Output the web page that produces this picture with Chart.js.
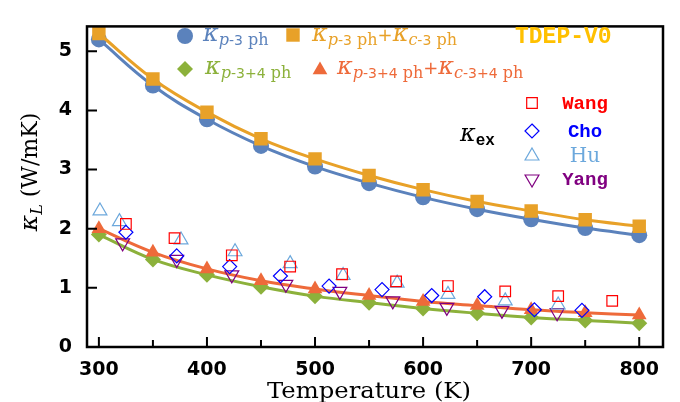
<!DOCTYPE html>
<html>
<head>
<meta charset="utf-8">
<script src="https://cdn.jsdelivr.net/npm/chart.js@4.4.0/dist/chart.umd.min.js"></script>
<style>
  html, body { margin: 0; padding: 0; background: #fff; }
  #wrap { width: 680px; height: 402px; }
</style>
</head>
<body>
<div id="wrap"><canvas id="chart" width="680" height="402"></canvas></div>
<script>
// ── Data ─────────────────────────────────────────────────────
const TEMPS     = [300, 350, 400, 450, 500, 550, 600, 650, 700, 750, 800];
const K_P3      = [5.20, 4.42, 3.85, 3.40, 3.05, 2.77, 2.53, 2.33, 2.16, 2.01, 1.89];
const K_P3_C3   = [5.30, 4.53, 3.97, 3.52, 3.18, 2.90, 2.66, 2.46, 2.30, 2.15, 2.04];
const K_P34     = [1.90, 1.48, 1.22, 1.02, 0.86, 0.75, 0.65, 0.57, 0.50, 0.45, 0.40];
const K_P34_C34 = [2.00, 1.60, 1.32, 1.12, 0.98, 0.87, 0.77, 0.70, 0.63, 0.58, 0.54];

// experiments (kappa_ex)
const WANG_T = [325, 370, 423, 477, 525, 575, 623, 676, 725, 775];
const WANG_K = [2.08, 1.84, 1.55, 1.36, 1.23, 1.11, 1.03, 0.94, 0.86, 0.78];
const CHO_T  = [325, 372, 421, 468, 513, 562, 608, 657, 703, 747];
const CHO_K  = [1.94, 1.54, 1.36, 1.20, 1.03, 0.97, 0.87, 0.85, 0.63, 0.62];
const HU_T   = [301, 319, 376, 426, 477, 526, 576, 623, 676, 725];
const HU_K   = [2.30, 2.12, 1.81, 1.61, 1.41, 1.21, 1.08, 0.89, 0.78, 0.71];
const YANG_T = [322, 372, 423, 473, 523, 572, 622, 673, 724];
const YANG_K = [1.76, 1.48, 1.22, 1.06, 0.94, 0.78, 0.67, 0.62, 0.58];

const X_TICKS = [300, 400, 500, 600, 700, 800];
const X_MINOR = [350, 450, 550, 650, 750];
const Y_TICKS = [0, 1, 2, 3, 4, 5];

// ── Palette ──────────────────────────────────────────────────
const C = {
  blue:   '#5b82bc',
  orange: '#e8a128',
  green:  '#8cb13b',
  red:    '#ee6a3a',
  tdep:   '#ffc000',
  wang:   '#ff0000',
  cho:    '#0000ff',
  hu:     '#6ca8dc',
  yang:   '#800080',
};

const pts = (xs, ys) => xs.map((x, i) => ({ x, y: ys[i] }));

function calcSet(label, ys, color, style, r) {
  return {
    label, data: pts(TEMPS, ys), showLine: true, tension: 0.4,
    borderColor: color, backgroundColor: color, borderWidth: 3,
    pointStyle: style, pointRadius: r, pointBorderWidth: 0,
  };
}
function expSet(label, xs, ys, color, style, r, rot) {
  return {
    label, data: pts(xs, ys), showLine: false,
    borderColor: color, backgroundColor: 'rgba(0,0,0,0)',
    pointStyle: style, pointRadius: r, pointBorderWidth: 1.2, pointRotation: rot || 0,
  };
}

// ── Small drawing helpers ─────────────────────────────────────
function marker(ctx, style, x, y, r, color, filled, rot) {
  ctx.save();
  ctx.translate(x, y);
  if (rot) ctx.rotate(rot * Math.PI / 180);
  ctx.beginPath();
  if (style === 'circle') ctx.arc(0, 0, r, 0, Math.PI * 2);
  else if (style === 'rect') { const s = r * Math.SQRT1_2; ctx.rect(-s, -s, 2 * s, 2 * s); }
  else if (style === 'rectRot') { ctx.moveTo(0, -r); ctx.lineTo(r, 0); ctx.lineTo(0, r); ctx.lineTo(-r, 0); ctx.closePath(); }
  else if (style === 'triangle') {
    for (let k = 0; k < 3; k++) {
      const a = k * 2 * Math.PI / 3;
      ctx[k ? 'lineTo' : 'moveTo'](Math.sin(a) * r, -Math.cos(a) * r);
    }
    ctx.closePath();
  }
  if (filled) { ctx.fillStyle = color; ctx.fill(); }
  else { ctx.strokeStyle = color; ctx.lineWidth = 1.2; ctx.stroke(); }
  ctx.restore();
}

// parts: [text, font, dy]
function rich(ctx, x, y, parts, color) {
  ctx.fillStyle = color;
  ctx.textAlign = 'left';
  ctx.textBaseline = 'alphabetic';
  parts.forEach(([t, f, dy]) => {
    ctx.font = f;
    ctx.fillText(t, x, y + (dy || 0));
    x += ctx.measureText(t).width;
  });
  return x;
}

const KAPPA = 'italic 24px "DejaVu Serif"';
const SUBI  = 'italic 16px "DejaVu Serif"';
const SUBM  = '14px "DejaVu Sans"';
const SUBS  = '16px "DejaVu Serif"';
const kappaSub = (letter, num) => [
  ['κ', KAPPA], [letter, SUBI, 4], [num, SUBM, 4], [' ph', SUBS, 4],
];

// ── Plugins: frame, inward ticks, titles, legend ──────────────
const decor = {
  id: 'decor',
  afterDatasetsDraw(chart) {
    const { ctx, chartArea: a, scales: { x, y } } = chart;
    ctx.save();
    ctx.strokeStyle = '#000';
    ctx.lineWidth = 2.5;
    ctx.strokeRect(a.left, a.top, a.right - a.left, a.bottom - a.top);

    ctx.lineWidth = 2;
    ctx.beginPath();
    X_TICKS.forEach(v => { const p = x.getPixelForValue(v); ctx.moveTo(p, a.bottom); ctx.lineTo(p, a.bottom - 10); });
    X_MINOR.forEach(v => { const p = x.getPixelForValue(v); ctx.moveTo(p, a.bottom); ctx.lineTo(p, a.bottom - 7); });
    Y_TICKS.slice(1).forEach(v => { const p = y.getPixelForValue(v); ctx.moveTo(a.left, p); ctx.lineTo(a.left + 10, p); });
    ctx.stroke();

    // axis titles
    ctx.fillStyle = '#000';
    ctx.font = '22px "DejaVu Serif"';
    ctx.textAlign = 'center';
    ctx.textBaseline = 'alphabetic';
    const tw = ctx.measureText('Temperature (K)').width;
    ctx.save();
    ctx.translate(369, 398);
    ctx.scale(204 / tw, 1);
    ctx.fillText('Temperature (K)', 0, 0);
    ctx.restore();

    ctx.save();
    ctx.translate(37, 172);
    ctx.rotate(-Math.PI / 2);
    const parts = [['κ', 'italic 25px "DejaVu Serif"'], ['L', 'italic 16px "DejaVu Serif"', 5], [' (W/mK)', '22px "DejaVu Serif"']];
    let w = 0;
    parts.forEach(([t, f]) => { ctx.font = f; w += ctx.measureText(t).width; });
    rich(ctx, -w / 2, 0, parts, '#000');
    ctx.restore();

    // legend, calculated series
    marker(ctx, 'circle', 185, 36, 8, C.blue, true);
    rich(ctx, 203, 41, kappaSub('p', '-3'), C.blue);
    marker(ctx, 'rect', 293, 35, 9.5, C.orange, true);
    rich(ctx, 312, 41, [...kappaSub('p', '-3'), ['+', '18px "DejaVu Sans"'], ...kappaSub('c', '-3')], C.orange);
    ctx.font = 'bold 23px "Liberation Mono"';
    ctx.fillStyle = C.tdep;
    ctx.textAlign = 'left';
    ctx.fillText('TDEP-V0', 515, 43);

    marker(ctx, 'rectRot', 185, 69, 8, C.green, true);
    rich(ctx, 205, 74, kappaSub('p', '-3+4'), C.green);
    marker(ctx, 'triangle', 320, 70, 8.5, C.red, true);
    rich(ctx, 337, 74, [...kappaSub('p', '-3+4'), ['+', '18px "DejaVu Sans"'], ...kappaSub('c', '-3+4')], C.red);

    // legend, experiments
    rich(ctx, 460, 141, [['κ', KAPPA], ['ex', 'bold 16px "Liberation Mono"', 4]], '#000');
    const rows = [
      ['rect', 103, C.wang, 'Wang', 'bold 19px "Liberation Mono"', 7.5, 0],
      ['rectRot', 131, C.cho, 'Cho', 'bold 19px "Liberation Mono"', 7, 0],
      ['triangle', 156, C.hu, 'Hu', '20px "DejaVu Serif"', 8, 0],
      ['triangle', 179, C.yang, 'Yang', 'bold 19px "Liberation Mono"', 8, 180],
    ];
    rows.forEach(([st, yy, col, txt, f, r, rot]) => {
      marker(ctx, st, 532, yy, r, col, false, rot);
      ctx.font = f;
      ctx.fillStyle = col;
      ctx.textAlign = 'center';
      ctx.textBaseline = 'middle';
      ctx.fillText(txt, 585, yy + 1);
    });
    ctx.restore();
  }
};

// ── Chart ────────────────────────────────────────────────────
const TICK_FONT = { family: '"DejaVu Sans"', size: 19, weight: 'bold' };

new Chart(document.getElementById('chart'), {
  type: 'scatter',
  data: {
    datasets: [
      expSet('Wang', WANG_T, WANG_K, C.wang, 'rect', 7.5),
      expSet('Cho', CHO_T, CHO_K, C.cho, 'rectRot', 7),
      expSet('Hu', HU_T, HU_K, C.hu, 'triangle', 8),
      expSet('Yang', YANG_T, YANG_K, C.yang, 'triangle', 8, 180),
      calcSet('κp-3+4ph+κc-3+4ph', K_P34_C34, C.red, 'triangle', 8.5),
      calcSet('κp-3+4ph', K_P34, C.green, 'rectRot', 8),
      calcSet('κp-3ph+κc-3ph', K_P3_C3, C.orange, 'rect', 9.5),
      calcSet('κp-3ph', K_P3, C.blue, 'circle', 8),
    ]
  },
  options: {
    responsive: false,
    animation: false,
    layout: { padding: { left: 0, top: 10, right: 17, bottom: 0 } },
    plugins: { legend: { display: false }, tooltip: { enabled: false } },
    scales: {
      x: {
        type: 'linear', min: 289, max: 822,
        afterBuildTicks: s => { s.ticks = X_TICKS.map(v => ({ value: v })); },
        afterFit: s => { s.height = 55; },
        ticks: { color: '#000', font: TICK_FONT, padding: 12, maxRotation: 0 },
        grid: { display: false, drawTicks: false },
        border: { display: false },
      },
      y: {
        type: 'linear', min: 0, max: 5.42,
        afterBuildTicks: s => { s.ticks = Y_TICKS.map(v => ({ value: v })); },
        afterFit: s => { s.width = 87; },
        ticks: { color: '#000', font: TICK_FONT, padding: 15 },
        grid: { display: false, drawTicks: false },
        border: { display: false },
      }
    }
  },
  plugins: [decor]
});
</script>
</body>
</html>
